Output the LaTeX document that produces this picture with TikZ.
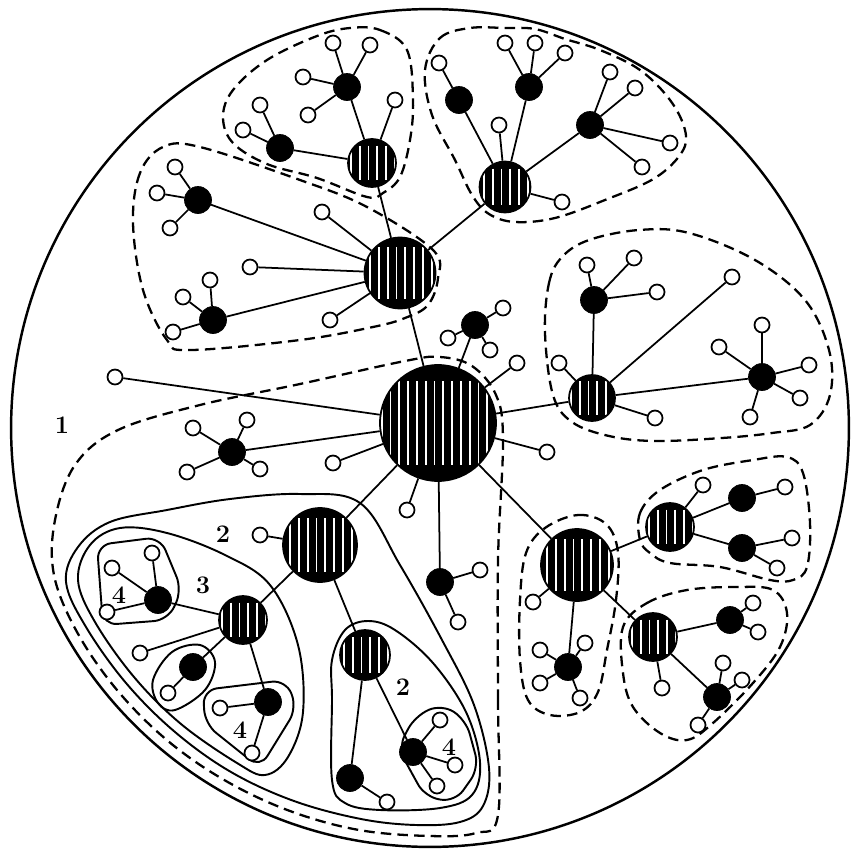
\documentclass[tikz,border=0pt]{standalone}
\usepackage{tikz}
\tikzset{
  rim/.style={black,line width=1.4pt},
  zone/.style={black,line width=1.3pt,dash pattern=on 6pt off 3.5pt},
  cell/.style={black,line width=1.1pt},
  link/.style={black,line width=1pt},
  leaf/.style={circle,draw=black,fill=white,line width=1pt,inner sep=0pt,minimum size=0.3cm},
  relay/.style={circle,draw=black,fill=black,inner sep=0pt,minimum size=0.54cm},
  hub/.style={circle,draw=black,fill=black,line width=1pt,inner sep=0pt,minimum size=#1,
    path picture={\foreach \sx in {-32,-27,...,33}{
      \draw[white,line width=1pt]
        ([xshift=\sx*1pt,yshift=0.36*#1]path picture bounding box.center) --
        ([xshift=\sx*1pt,yshift=-0.36*#1]path picture bounding box.center);}}},
  digit/.style={font=\Large\bfseries},
}
\newcommand{\twigs}[2]{%
  \foreach \lx/\ly [count=\lk] in {#2}{%
    \node[leaf] (#1-\lk) at (\lx,\ly) {};
    \draw[link] (#1) -- (#1-\lk);}}

\begin{document}
\begin{tikzpicture}[x=0.02cm,y=-0.02cm]
  \useasboundingbox (0,0) rectangle (852,852);
  \draw[rim] (430,428) circle [radius=8.38cm];

  \draw[zone] plot[smooth cycle,tension=0.6] coordinates {(498,815) (498,700) (498,560) (503,440)
    (496,395) (472,366) (440,357) (405,361) (300,384) (200,405) (118,430) (75,465) (55,520)
    (54,575) (77,632) (117,690) (168,741) (226,781) (290,811) (359,830) (430,836) (476,833)};
  \draw[zone] plot[smooth cycle,tension=0.6] coordinates {(163,147) (140,173) (133,223) (143,290)
    (167,340) (190,350) (300,340) (373,327) (405,318) (428,305) (438,278) (433,250) (367,207)
    (300,180) (200,147)};
  \draw[zone] plot[smooth cycle,tension=0.6] coordinates {(350,28) (380,30) (407,50) (413,100)
    (410,140) (400,177) (383,193) (367,197) (317,178) (267,164) (233,143) (223,117) (233,90)
    (267,60) (317,36)};
  \draw[zone] plot[smooth cycle,tension=0.6] coordinates {(425,70) (440,38) (470,28) (505,28)
    (535,29) (565,39) (600,50) (640,70) (670,100) (685,130) (682,152) (655,178) (605,200)
    (555,218) (515,222) (489,214) (472,195) (455,160) (432,115)};
  \draw[zone] plot[smooth cycle,tension=0.6] coordinates {(545,333) (549,283) (562,257) (589,240)
    (639,230) (689,233) (755,260) (805,300) (829,350) (830,395) (810,425) (772,433) (722,438)
    (655,441) (609,436) (572,422) (553,395)};
  \draw[zone] plot[smooth cycle,tension=0.6] coordinates {(545,528) (578,515) (606,524) (618,552)
    (616,600) (607,650) (598,692) (580,712) (550,715) (528,700) (520,660) (520,600) (526,553)};
  \draw[zone] plot[smooth cycle,tension=0.6] coordinates {(640,540) (640,513) (660,490) (703,470)
    (753,460) (787,457) (803,473) (810,523) (807,567) (793,580) (770,580) (720,567) (670,563)
    (650,553)};
  \draw[zone] plot[smooth cycle,tension=0.6] coordinates {(623,627) (647,603) (687,590) (737,587)
    (773,590) (787,613) (780,647) (753,683) (713,723) (687,740) (660,733) (633,707) (623,673)};

  \draw[cell] plot[smooth cycle,tension=0.6] coordinates {(360,503) (300,494) (230,499) (167,510)
    (110,522) (78,547) (66,582) (86,627) (126,683) (175,732) (231,772) (294,801) (361,819)
    (416,825) (460,822) (483,806) (489,768) (474,705) (442,640) (400,565)};
  \draw[cell] plot[smooth cycle,tension=0.6] coordinates {(225,555) (167,533) (120,528) (90,545)
    (78,580) (95,622) (134,677) (181,724) (237,763) (265,775) (288,757) (303,712)
    (298,645) (270,585)};
  \draw[cell] plot[smooth cycle,tension=0.6] coordinates {(345,630) (368,621) (395,630) (433,663)
    (466,712) (480,762) (472,795) (440,808) (380,810) (345,803) (332,780) (332,700) (332,660)};
  \draw[cell,rounded corners=8pt] (97,545) -- (160,537) -- (182,590) -- (168,620) -- (103,625) -- cycle;
  \draw[cell] plot[smooth cycle,tension=0.6] coordinates {(153,680) (172,652) (200,645) (215,662)
    (205,690) (175,710) (158,703)};
  \draw[cell,rounded corners=8pt] (203,690) -- (286,680) -- (297,708) -- (260,768) -- (205,724) -- cycle;
  \draw[cell,rounded corners=8pt] (398,748) -- (415,716) -- (442,704) -- (466,720) -- (479,768)
    -- (455,802) -- (425,797) -- cycle;

  \node[hub=2.32cm] (h0) at (438,423) {};
  \node[hub=1.42cm] (h1) at (400,273) {};
  \node[hub=0.96cm] (h2) at (372,163) {};
  \node[hub=1.02cm] (h3) at (505,187) {};
  \node[hub=0.92cm] (h4) at (592,398) {};
  \node[hub=1.44cm] (h5) at (577,565) {};
  \node[hub=0.96cm] (h6) at (670,527) {};
  \node[hub=0.96cm] (h7) at (653,637) {};
  \node[hub=1.48cm] (h8) at (320,545) {};
  \node[hub=0.96cm] (h9) at (243,620) {};
  \node[hub=1.0cm] (h10) at (365,655) {};

  \node[relay] (r1) at (198,200) {};
  \node[relay] (r2) at (213,320) {};
  \node[relay] (r3) at (347,87) {};
  \node[relay] (r4) at (280,148) {};
  \node[relay] (r5) at (459,100) {};
  \node[relay] (r6) at (529,87) {};
  \node[relay] (r7) at (590,125) {};
  \node[relay] (r8) at (594,300) {};
  \node[relay] (r9) at (762,377) {};
  \node[relay] (r10) at (568,667) {};
  \node[relay] (r11) at (742,498) {};
  \node[relay] (r12) at (742,548) {};
  \node[relay] (r13) at (730,620) {};
  \node[relay] (r14) at (717,697) {};
  \node[relay] (r15) at (440,582) {};
  \node[relay] (r16) at (475,325) {};
  \node[relay] (r17) at (232,452) {};
  \node[relay] (r18) at (350,778) {};
  \node[relay] (r19) at (413,752) {};
  \node[relay] (r20) at (158,600) {};
  \node[relay] (r21) at (193,667) {};
  \node[relay] (r22) at (268,702) {};

  \foreach \a/\b in {h0/h1,h1/h2,h1/h3,h0/h4,h0/h5,h5/h6,h5/h7,h0/h8,h8/h9,h8/h10}
    \draw[link] (\a) -- (\b);
  \foreach \r/\h in {r1/h1,r2/h1,r3/h2,r4/h2,r5/h3,r6/h3,r7/h3,r8/h4,r9/h4,r10/h5,r11/h6,r12/h6,
      r13/h7,r14/h7,r15/h0,r16/h0,r17/h0,r18/h10,r19/h10,r20/h9,r21/h9,r22/h9}
    \draw[link] (\r) -- (\h);

  \twigs{h0}{115/377,333/463,407/510,547/452,517/363}
  \twigs{h1}{250/267,322/212,330/320}
  \twigs{h2}{395/100}
  \twigs{h3}{499/125,562/202}
  \twigs{h4}{732/277,559/363,655/418}
  \twigs{h5}{533/602}
  \twigs{h6}{703/485}
  \twigs{h7}{662/688}
  \twigs{h8}{260/535}
  \twigs{h9}{140/653}
  \twigs{r1}{175/167,157/193,170/228}
  \twigs{r2}{210/280,183/297,173/332}
  \twigs{r3}{333/43,370/45,303/77,308/115}
  \twigs{r4}{260/105,243/130}
  \twigs{r5}{439/63}
  \twigs{r6}{505/43,535/43,565/53}
  \twigs{r7}{610/72,635/88,670/143,642/167}
  \twigs{r8}{587/265,634/258,657/292}
  \twigs{r9}{762/325,719/347,809/365,800/398,750/417}
  \twigs{r10}{540/650,585/643,540/683,580/698}
  \twigs{r11}{785/487}
  \twigs{r12}{792/538,777/568}
  \twigs{r13}{753/603,758/632}
  \twigs{r14}{723/663,742/680,698/725}
  \twigs{r15}{480/570,458/622}
  \twigs{r16}{448/338,503/308,490/350}
  \twigs{r17}{193/428,247/420,187/472,260/469}
  \twigs{r18}{387/802}
  \twigs{r19}{440/720,455/765,437/786}
  \twigs{r20}{152/553,112/568,107/612}
  \twigs{r21}{168/693}
  \twigs{r22}{220/708,252/753}

  \node[digit] (lab1) at (62,425) {1};
  \node[digit] (lab2) at (223,534) {2};
  \node[digit] (lab3) at (203,585) {3};
  \node[digit] (lab4) at (119,595) {4};
  \node[digit] (lab5) at (240,730) {4};
  \node[digit] (lab6) at (403,687) {2};
  \node[digit] (lab7) at (449,747) {4};
\end{tikzpicture}
\end{document}
